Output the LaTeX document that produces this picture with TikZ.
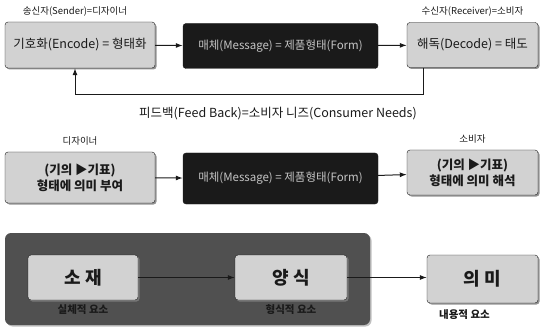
\documentclass[tikz,border=0pt]{standalone}
\usepackage{fontspec}
\setmainfont{Noto Sans CJK KR}
\usetikzlibrary{arrows.meta,positioning,shadows}
\definecolor{SignPaper}{HTML}{D2D2D2}
\definecolor{SignInk}{HTML}{1A1A1A}
\definecolor{SignPanel}{HTML}{505050}
\definecolor{SignMuted}{HTML}{C4C4C4}

\begin{document}
\begin{tikzpicture}[x=1pt,y=-1pt,
  lightbox/.style={draw=SignInk,fill=SignPaper,rounded corners=3pt,text=SignInk,align=center,font=\fontsize{12.5}{15}\selectfont,inner sep=2pt,drop shadow={opacity=0.85,shadow xshift=1.5pt,shadow yshift=-1.5pt}},
  darkbox/.style={draw=SignInk,fill=SignInk,rounded corners=3pt,text=SignMuted,align=center,font=\fontsize{11.5}{14}\selectfont,inner sep=2pt},
  pairbox/.style={lightbox,font=\fontsize{12.5}{16}\selectfont\bfseries},
  bigbox/.style={lightbox,font=\fontsize{18}{20}\selectfont\bfseries},
  arrow/.style={-{Latex[length=7pt,width=5pt]},draw=SignInk,line width=1pt},
  tag/.style={text=SignInk,font=\fontsize{9.5}{11}\selectfont},
  note/.style={text=SignInk,font=\fontsize{10.5}{12}\selectfont\bfseries}
]
\useasboundingbox (0,0) rectangle (541,334);
% row 1: communication model
\node[lightbox,minimum width=150pt,minimum height=46pt] (encode) at (80,45) {기호화(Encode) = 형태화};
\node[darkbox,minimum width=195pt,minimum height=45pt] (message) at (280.5,46) {매체(Message) = 제품형태(Form)};
\node[lightbox,minimum width=131pt,minimum height=45pt] (decode) at (472.5,45) {해독(Decode) = 태도};
\node[tag,above=2pt of encode,xshift=-5pt] {송신자(Sender)=디자이너};
\node[tag,above=2pt of decode] {수신자(Receiver)=소비자};
\draw[arrow] (encode) -- (message);
\draw[arrow] (message) -- (decode);
\coordinate (fbright) at (423,95);
\coordinate (fbleft) at (75,95);
\draw[arrow] (fbright |- decode.south) -- (fbright) -- (fbleft) -- (fbleft |- encode.south);
\node[text=SignInk,font=\fontsize{12.5}{14}\selectfont] (feedback) at (278,114) {피드백(Feed Back)=소비자 니즈(Consumer Needs)};
% row 2: meaning
\node[pairbox,minimum width=150pt,minimum height=51pt] (giving) at (80,177.5) {(기의 ▶기표)\\형태에 의미 부여};
\node[darkbox,minimum width=195pt,minimum height=51pt] (message2) at (280.5,178.5) {매체(Message) = 제품형태(Form)};
\node[pairbox,minimum width=131pt,minimum height=45pt] (reading) at (472.5,172.5) {(기의 ▶기표)\\형태에 의미 해석};
\node[tag,above=3pt of giving] {디자이너};
\node[tag,above=3pt of reading] {소비자};
\draw[arrow] (giving) -- (message2);
\draw[arrow] (message2) -- (reading);
% row 3: elements
\node[fill=SignPanel,rounded corners=6pt,minimum width=365pt,minimum height=92pt,drop shadow={opacity=0.5,shadow xshift=1.5pt,shadow yshift=-1.5pt}] (panel) at (187.5,279) {};
\node[bigbox,minimum width=110pt,minimum height=45pt] (material) at (83,277.5) {소 재};
\node[bigbox,minimum width=112pt,minimum height=45pt] (style) at (291,277.5) {양 식};
\node[bigbox,minimum width=111pt,minimum height=48pt] (meaning) at (482.5,279) {의 미};
\node[note,below=1pt of material] {실체적 요소};
\node[note,below=1pt of style] {형식적 요소};
\node[note,below=3pt of meaning,xshift=-18pt] {내용적 요소};
\draw[arrow] (material) -- (style);
\draw[arrow] (style) -- (style -| meaning.west);
\end{tikzpicture}
\end{document}
